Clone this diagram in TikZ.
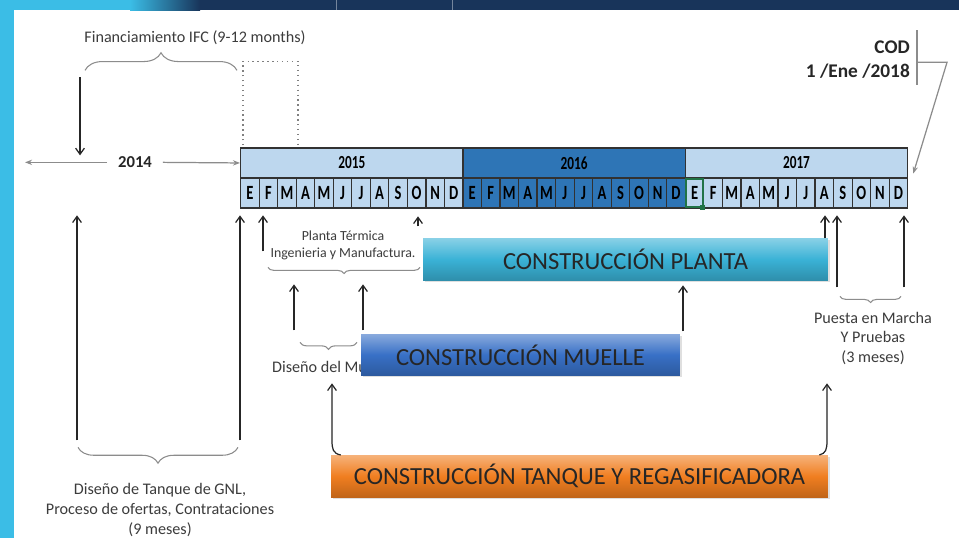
\documentclass[tikz,border=0pt]{standalone}
\usepackage{fontspec}
\setmainfont{Carlito}
\newfontfamily\tablefont{Carlito}[FakeStretch=0.72]
\usetikzlibrary{positioning,arrows.meta,decorations.pathreplacing,calc,shadows}
\definecolor{sidecyan}{RGB}{59,189,230}
\definecolor{navybar}{RGB}{24,52,90}
\definecolor{yearlight}{RGB}{189,215,238}
\definecolor{yeardark}{RGB}{46,117,182}
\definecolor{gridline}{RGB}{50,50,50}
\definecolor{plantacyan}{RGB}{58,178,214}
\definecolor{muelleblue}{RGB}{56,112,198}
\definecolor{tanqueorange}{RGB}{240,126,32}
\definecolor{selgreen}{RGB}{33,115,70}
\definecolor{notegrey}{RGB}{60,60,60}

\begin{document}
\begin{tikzpicture}[x=0.02cm,y=-0.02cm,
  yearcell/.style={draw=gridline,line width=0.7pt,minimum width=4.4472cm,
    minimum height=0.6cm,inner sep=0pt,anchor=north west,
    font=\tablefont\bfseries\fontsize{10.5}{12}\selectfont},
  monthcell/.style={yearcell,minimum width=0.3706cm,
    font=\tablefont\bfseries\fontsize{11.5}{12}\selectfont},
  bar/.style={minimum height=0.84cm,inner sep=0pt,
    font=\fontsize{14}{16}\selectfont,text=black!85,
    drop shadow={shadow xshift=1pt,shadow yshift=-1.2pt,opacity=0.25}},
  note/.style={font=\fontsize{9.2}{11.3}\selectfont,align=center,
    text=notegrey,inner sep=1pt},
  uparr/.style={-{Straight Barb[length=3.5pt,width=5pt]},line width=0.7pt,black!85},
  greyarr/.style={-{Stealth[length=4pt,width=3pt]},line width=0.7pt,black!45},
  bracedeco/.style={decorate,decoration={brace,amplitude=#1},line width=0.6pt,black!45},
  bracedeco/.default=4pt
]
% background and frame
\fill[white] (0,0) rectangle (959,538);
\fill[sidecyan] (0,0) rectangle (14,538);
\fill[sidecyan] (0,0) rectangle (130,10);
\shade[left color=sidecyan,right color=navybar] (130,0) rectangle (200,10);
\fill[navybar] (200,0) rectangle (959,10);
\draw[navybar!60!white,line width=0.4pt] (336,0) -- (336,10) (452,0) -- (452,10);

% timeline table
\foreach \yr/\fc [count=\y from 0] in {2015/yearlight,2016/yeardark,2017/yearlight}{
  \node[yearcell,fill=\fc] (y\yr) at ({240+222.36*\y},147) {\yr};
  \foreach \mo [count=\k from 0] in {E,F,M,A,M,J,J,A,S,O,N,D}
    \node[monthcell,fill=\fc] (m\yr-\k) at ({240+222.36*\y+18.53*\k},177) {\mo};
}
\draw[selgreen,line width=1.4pt] ($(m2017-0.north west)+(1.5,1.5)$) rectangle ($(m2017-0.south east)+(-1.5,-1.5)$);
\fill[selgreen] ($(m2017-0.south east)+(-4,-4)$) rectangle ++(5,5);

% 2014 and financing
\node[font=\fontsize{9.5}{11}\selectfont\bfseries,inner xsep=6pt,text=black!85] (y2014) at (135,162) {2014};
\coordinate (w2014) at (25,162);
\draw[greyarr] (y2014.west) -- (w2014);
\draw[greyarr] (y2014.east) -- (y2015.west);
\node[note] (fin) at (195,37) {Financiamiento IFC (9-12 months)};
\draw[bracedeco=10pt] (85,70) -- (237,70);
\coordinate (finTail) at (80,77);
\coordinate (finTip) at (80,155);
\draw[uparr] (finTail) -- (finTip);
\draw[dotted,black!50,line width=0.8pt] (243,145) |- (298,61) -- (298,145);

% COD
\node[font=\fontsize{11}{13.5}\selectfont\bfseries,align=right,anchor=east,text=black!85] (cod) at (916,59) {COD\\1 /Ene /2018};
\draw[black!45,line width=0.6pt] (917,30) -- (917,85);
\coordinate (codStart) at (917,62);
\coordinate (codBend) at (947,62);
\draw[greyarr] (codStart) -- (codBend) -- ($(y2017.south east)+(5,-5)$);

% notes and braces
\node[note,font=\fontsize{7.9}{9.6}\selectfont] (plantaNote) at (343,245) {Planta Térmica\\Ingenieria y Manufactura.};
\draw[bracedeco=3.5pt] (420,267) -- (268,267);
\node[note,anchor=west] (muelleNote) at (270,367) {Diseño del Muelle};
\draw[bracedeco=4pt] (357,342) -- (300,342);
\draw[bracedeco=3.5pt] (901,296) -- (840,296);
\node[note,font=\fontsize{9.2}{11}\selectfont] (puesta) at (873,338) {Puesta en Marcha\\Y Pruebas\\(3 meses)};
\draw[bracedeco=9pt] (238,447) -- (78,447);
\node[note] (gnl) at (160,510) {Diseño de Tanque de GNL,\\Proceso de ofertas, Contrataciones\\(9 meses)};

% construction bars
\node[bar,minimum width=8.1cm,top color=plantacyan!60!white,bottom color=plantacyan!80!black,middle color=plantacyan] (planta) at (625.5,259) {CONSTRUCCIÓN PLANTA};
\node[bar,minimum width=6.38cm,minimum height=0.82cm,top color=muelleblue!60!white,bottom color=muelleblue!80!black,middle color=muelleblue] (muelle) at (520.5,354.5) {CONSTRUCCIÓN MUELLE};
\node[bar,minimum width=9.94cm,top color=tanqueorange!60!white,bottom color=tanqueorange!80!black,middle color=tanqueorange] (tanque) at (579.5,476) {CONSTRUCCIÓN TANQUE Y REGASIFICADORA};

% milestone arrows
\foreach \n/\x/\ya/\yb in {gnlL/77/440/215, gnlR/240/440/215, eng/263/251/215,
    oct/418/226/216, desL/294/330/284, desR/363/330/284, mue/683/331/285,
    plA/825/238/215, puL/837/287/215, puR/904/287/215}{
  \coordinate (s\n) at (\x,\ya);
  \coordinate (t\n) at (\x,\yb);
  \draw[uparr] (s\n) -- (t\n);
}
\coordinate (tqL) at (332,383);
\coordinate (tqR) at (827,383);
\draw[uparr] ($(tanque.north west)+(10,0)$) .. controls (333,453) and (332,449) .. (332,440) -- (tqL);
\draw[uparr] ($(tanque.north east)+(-9,0)$) .. controls (826,453) and (827,449) .. (827,440) -- (tqR);
\end{tikzpicture}
\end{document}
